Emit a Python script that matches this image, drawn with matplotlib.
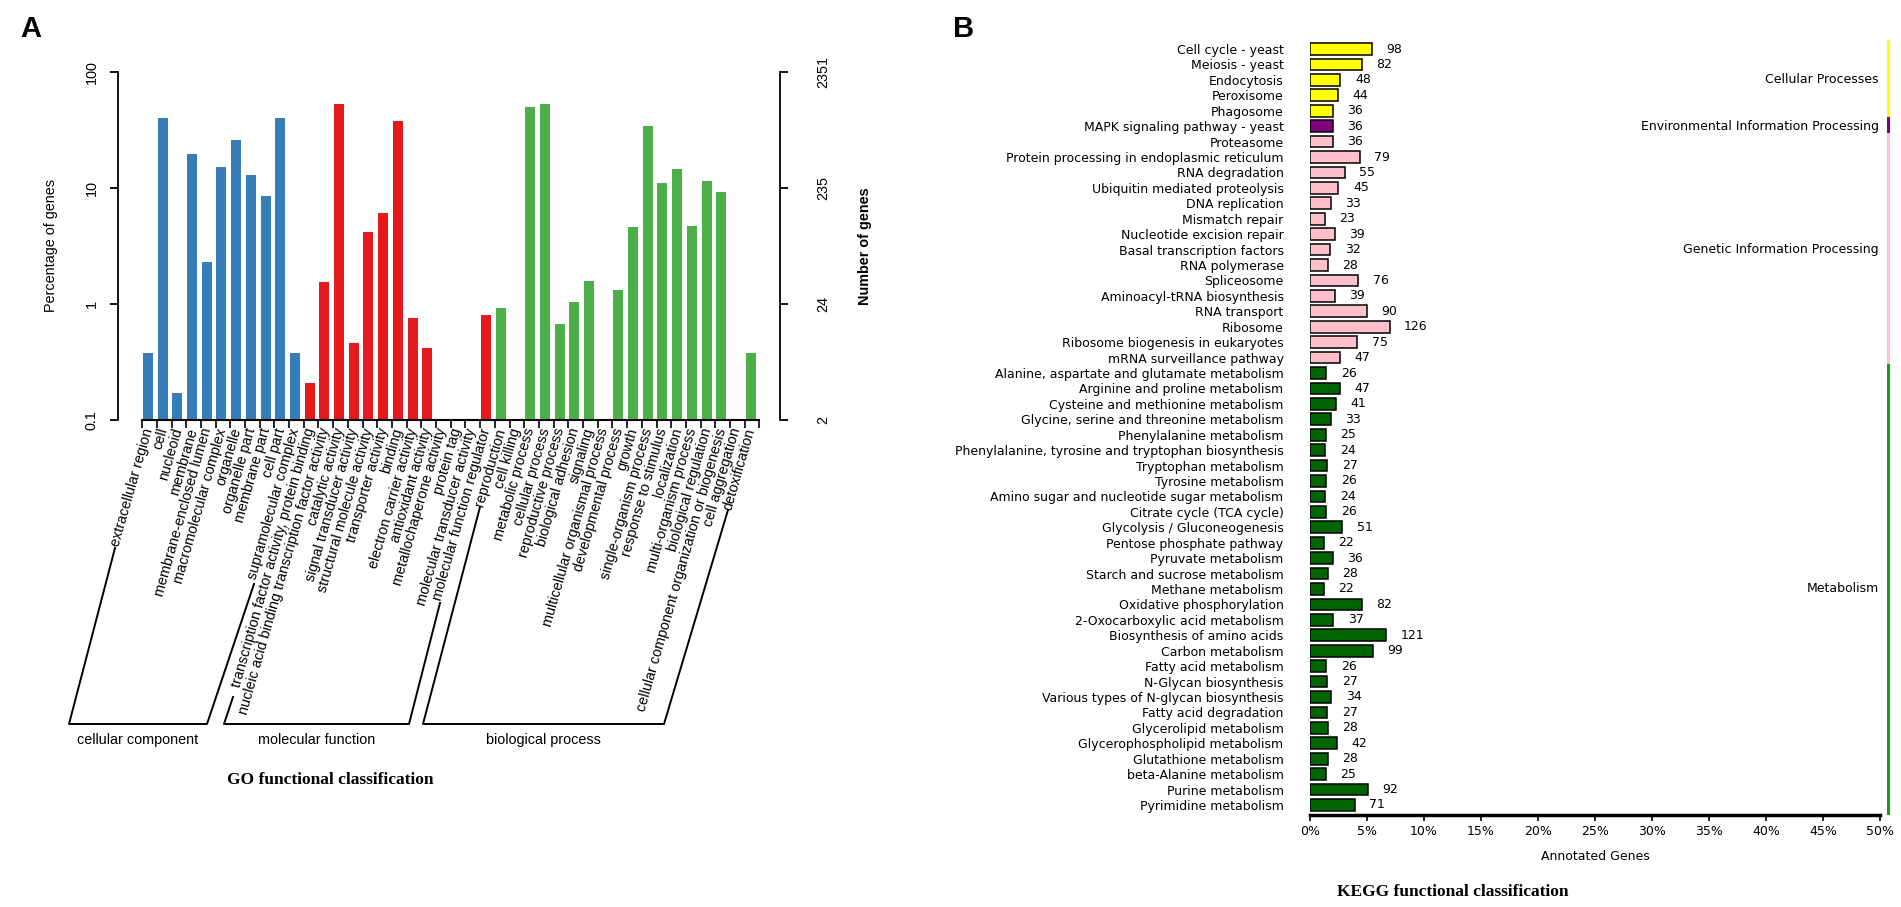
import numpy as np
import matplotlib.pyplot as plt
from matplotlib.lines import Line2D
from matplotlib.ticker import NullLocator

plt.rcParams['font.family'] = ['Liberation Sans', 'DejaVu Sans']

# ---- GO data (percentage of genes) ----
go_cc = ['extracellular region', 'cell', 'nucleoid', 'membrane', 'membrane-enclosed lumen',
         'macromolecular complex', 'organelle', 'organelle part', 'membrane part', 'cell part',
         'supramolecular complex']
go_cc_pct = [0.38, 40, 0.17, 19.6, 2.3, 15.2, 26, 13, 8.5, 40.5, 0.38]

go_mf = ['transcription factor activity, protein binding',
         'nucleic acid binding transcription factor activity', 'catalytic activity',
         'signal transducer activity', 'structural molecule activity', 'transporter activity',
         'binding', 'electron carrier activity', 'antioxidant activity',
         'metallochaperone activity', 'protein tag', 'molecular transducer activity',
         'molecular function regulator']
go_mf_pct = [0.21, 1.55, 53, 0.46, 4.2, 6.1, 38, 0.76, 0.42, 0, 0, 0, 0.80]

go_bp = ['reproduction', 'cell killing', 'metabolic process', 'cellular process',
         'reproductive process', 'biological adhesion', 'signaling',
         'multicellular organismal process', 'developmental process', 'growth',
         'single-organism process', 'response to stimulus', 'localization',
         'multi-organism process', 'biological regulation',
         'cellular component organization or biogenesis', 'cell aggregation', 'detoxification']
go_bp_pct = [0.93, 0, 49.7, 53.5, 0.67, 1.05, 1.59, 0, 1.31, 4.6, 34, 11.1, 14.5, 4.7, 11.6,
             9.3, 0, 0.38]

go_groups = ['cellular component', 'molecular function', 'biological process']
go_colors = ['#377EB8', '#E41A1C', '#4DAF4A']
pct_ticks = [0.1, 1, 10, 100]
gene_ticks = [2, 24, 235, 2351]

# ---- KEGG data ----
kegg_labels = ['Cell cycle - yeast', 'Meiosis - yeast', 'Endocytosis', 'Peroxisome', 'Phagosome',
               'MAPK signaling pathway - yeast',
               'Proteasome', 'Protein processing in endoplasmic reticulum', 'RNA degradation',
               'Ubiquitin mediated proteolysis', 'DNA replication', 'Mismatch repair',
               'Nucleotide excision repair', 'Basal transcription factors', 'RNA polymerase',
               'Spliceosome', 'Aminoacyl-tRNA biosynthesis', 'RNA transport', 'Ribosome',
               'Ribosome biogenesis in eukaryotes', 'mRNA surveillance pathway',
               'Alanine, aspartate and glutamate metabolism', 'Arginine and proline metabolism',
               'Cysteine and methionine metabolism', 'Glycine, serine and threonine metabolism',
               'Phenylalanine metabolism', 'Phenylalanine, tyrosine and tryptophan biosynthesis',
               'Tryptophan metabolism', 'Tyrosine metabolism',
               'Amino sugar and nucleotide sugar metabolism', 'Citrate cycle (TCA cycle)',
               'Glycolysis / Gluconeogenesis', 'Pentose phosphate pathway', 'Pyruvate metabolism',
               'Starch and sucrose metabolism', 'Methane metabolism', 'Oxidative phosphorylation',
               '2-Oxocarboxylic acid metabolism', 'Biosynthesis of amino acids', 'Carbon metabolism',
               'Fatty acid metabolism', 'N-Glycan biosynthesis',
               'Various types of N-glycan biosynthesis', 'Fatty acid degradation',
               'Glycerolipid metabolism', 'Glycerophospholipid metabolism', 'Glutathione metabolism',
               'beta-Alanine metabolism', 'Purine metabolism', 'Pyrimidine metabolism']
kegg_counts = [98, 82, 48, 44, 36,
               36,
               36, 79, 55, 45, 33, 23, 39, 32, 28, 76, 39, 90, 126, 75, 47,
               26, 47, 41, 33, 25, 24, 27, 26, 24, 26, 51, 22, 36, 28, 22, 82, 37, 121, 99,
               26, 27, 34, 27, 28, 42, 28, 25, 92, 71]
kegg_total = 1805
kegg_groups = ['Cellular Processes', 'Environmental Information Processing',
               'Genetic Information Processing', 'Metabolism']
kegg_group_sizes = [5, 1, 15, 29]
kegg_bar_colors = ['#FFFF00', '#800080', '#FFC0CB', '#006400']
kegg_line_colors = ['#FFFF00', '#800080', '#FFC0CB', '#1E9A1E']

W, H = 1901, 907
fig = plt.figure(figsize=(W / 100, H / 100), dpi=100)


def box(l, t, r, b):
    return [l / W, 1 - b / H, (r - l) / W, (b - t) / H]


def fxy(x, y):
    return x / W, 1 - y / H


# ================= panel A =================
go_labels = go_cc + go_mf + go_bp
go_pct = np.array(go_cc_pct + go_mf_pct + go_bp_pct, dtype=float)
sizes = [len(go_cc), len(go_mf), len(go_bp)]
cols = sum([[c] * n for c, n in zip(go_colors, sizes)], [])
x = np.arange(len(go_labels))
keep = go_pct > 0

axA = fig.add_axes(box(118, 72, 780, 420))
axA.bar(x[keep], go_pct[keep], width=0.68, color=np.array(cols)[keep])
axA.set_yscale('log')
axA.set_ylim(0.1, 100)
axA.set_xlim(-2.04, 43.0)
axA.yaxis.set_minor_locator(NullLocator())
axA.set_yticks(pct_ticks)
axA.set_yticklabels(['0.1', '1', '10', '100'])
for lab in axA.get_yticklabels():
    lab.set_rotation(90)
    lab.set_va('center')
axA.tick_params(axis='y', length=6, width=1.3, labelsize=10.4, pad=8)
axA.set_ylabel('Percentage of genes', fontsize=10.4, labelpad=19)
for s in ['top', 'bottom', 'right']:
    axA.spines[s].set_visible(False)
axA.spines['left'].set_linewidth(1.3)

ticks_x = np.arange(len(go_labels) + 1) - 0.4
axA.set_xticks(ticks_x)
axA.tick_params(axis='x', length=6, width=1.2, labelbottom=False)
axA.plot([ticks_x[0], ticks_x[-1]], [0.1, 0.1], color='black', lw=1.5, clip_on=False)
for i, lab in enumerate(go_labels):
    axA.annotate(lab, (i, 0.1), xytext=(0.5, -6), textcoords='offset points', rotation=74,
                 rotation_mode='anchor', ha='right', va='center', fontsize=10.4)

axR = axA.twinx()
axR.set_yscale('log')
axR.set_ylim(0.1, 100)
axR.yaxis.set_minor_locator(NullLocator())
axR.set_yticks(pct_ticks)
axR.set_yticklabels([str(g) for g in gene_ticks])
for lab in axR.get_yticklabels():
    lab.set_rotation(90)
    lab.set_va('center')
axR.tick_params(axis='y', length=6, width=1.3, labelsize=10.4, pad=20)
axR.set_ylabel('Number of genes', fontsize=10.4, fontweight='bold', labelpad=20)
for s in ['top', 'bottom', 'left']:
    axR.spines[s].set_visible(False)
axR.spines['right'].set_linewidth(1.3)

# group brackets (pixel positions)
brackets = [((115, 548), 69, 207, (254, 584)),
            ((233, 697), 224, 409, (440, 603)),
            ((480, 507), 423, 664, (728, 510))]
ybr = 724
for (tl, xl, xr, tr), name in zip(brackets, go_groups):
    xs = [tl[0], xl, xr, tr[0]]
    ys = [tl[1], ybr, ybr, tr[1]]
    pts = [fxy(a, b) for a, b in zip(xs, ys)]
    fig.add_artist(Line2D([p[0] for p in pts], [p[1] for p in pts], color='black', lw=1.4,
                          transform=fig.transFigure))
    fig.text(*fxy((xl + xr) / 2, 740), name, ha='center', va='center', fontsize=10.4)

fig.text(*fxy(227, 780), 'GO functional classification', ha='left', va='center',
         fontsize=12.5, fontweight='bold', family='Liberation Serif')
fig.text(*fxy(20, 37), 'A', ha='left', va='baseline', fontsize=21, fontweight='bold')
fig.text(*fxy(953, 37), 'B', ha='left', va='baseline', fontsize=21, fontweight='bold')

# ================= panel B =================
kfont = 'DejaVu Sans'
pct = np.array(kegg_counts) / kegg_total * 100
bcols = sum([[c] * n for c, n in zip(kegg_bar_colors, kegg_group_sizes)], [])
yk = np.arange(len(kegg_labels))

axB = fig.add_axes(box(1310, 39, 1880, 815))
axB.barh(yk, pct, height=0.76, color=bcols, edgecolor='black', linewidth=1.1)
axB.set_xlim(0, 50)
axB.set_ylim(len(kegg_labels) - 0.35, -0.65)
axB.set_yticks(yk)
axB.set_yticklabels(kegg_labels, fontsize=9, family=kfont)
axB.tick_params(axis='y', length=0, pad=19)
xt = np.arange(0, 51, 5)
axB.set_xticks(xt)
axB.set_xticklabels([f'{t}%' for t in xt], fontsize=9, family=kfont)
axB.tick_params(axis='x', length=4, width=1.2, pad=3)
axB.set_xlabel('Annotated Genes', fontsize=9, family=kfont, labelpad=9)
for s in ['top', 'left', 'right']:
    axB.spines[s].set_visible(False)
axB.spines['bottom'].set_linewidth(2.5)

for yi, (p, c) in enumerate(zip(pct, kegg_counts)):
    axB.annotate(str(c), (p, yi), xytext=(10.5, 0), textcoords='offset points',
                 ha='left', va='center', fontsize=9, family=kfont)

start = 0
for name, n, lc in zip(kegg_groups, kegg_group_sizes, kegg_line_colors):
    axB.plot([50.7, 50.7], [start - 0.5, start + n - 0.5], color=lc, lw=2.2, clip_on=False)
    axB.text(49.9, start + (n - 1) / 2, name, ha='right', va='center', fontsize=9,
             family=kfont)
    start += n

fig.text(*fxy(1337, 892), 'KEGG functional classification', ha='left', va='center',
         fontsize=12.5, fontweight='bold', family='Liberation Serif')

fig.savefig('out.png', dpi=100)
